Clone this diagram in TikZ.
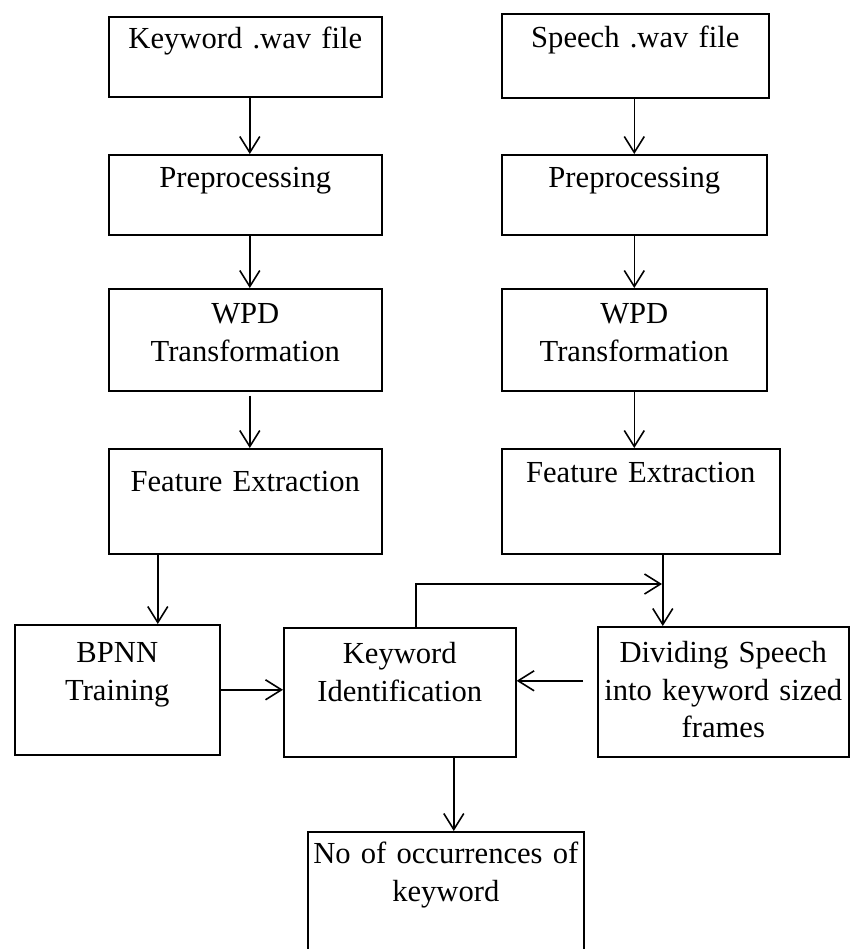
\documentclass[tikz,border=0pt]{standalone}
\usepackage{fontspec}
\setmainfont{Liberation Serif}
\usetikzlibrary{arrows.meta}

\begin{document}
\begin{tikzpicture}[x=0.5pt, y=-0.5pt,
line width=0.8pt,
>={Straight Barb[length=8pt,width=10pt]},
stage/.style={rectangle, draw, inner sep=0pt, anchor=north west,
  align=center, font=\fontsize{15.3pt}{18.7pt}\selectfont}
]
    \clip (0,0) rectangle (850,949);
    % keyword column
    \node[stage, text width=136.5pt, text height=16pt, text depth=24pt] (kwfile) at (108,16) {Keyword .wav file};
    \node[stage, text width=136.5pt, text height=16.5pt, text depth=23.5pt] (kwpre) at (108,154) {Preprocessing};
    \node[stage, text width=136.5pt, text height=17.5pt, text depth=33.5pt] (kwwpd) at (108,288) {WPD\\Transformation};
    \node[stage, text width=136.5pt, text height=21.5pt, text depth=31pt] (kwfeat) at (108,448) {Feature Extraction};
    % speech column
    \node[stage, text width=133.5pt, text height=17pt, text depth=25pt] (spfile) at (501,13) {Speech .wav file};
    \node[stage, text width=132.5pt, text height=16.5pt, text depth=23.5pt] (sppre) at (501,154) {Preprocessing};
    \node[stage, text width=132.5pt, text height=17.5pt, text depth=33.5pt] (spwpd) at (501,288) {WPD\\Transformation};
    \node[stage, text width=139pt, text height=17pt, text depth=35.5pt] (spfeat) at (501,448) {Feature Extraction};
    % bottom part
    \node[stage, text width=102.5pt, text height=19pt, text depth=46pt] (bpnn) at (14,624) {BPNN\\Training};
    \node[stage, text width=116pt, text height=18pt, text depth=46.5pt] (kid) at (283,627) {Keyword\\Identification};
    \node[stage, text width=125.5pt, text height=18pt, text depth=47pt] (div) at (597,626) {Dividing Speech\\into keyword sized\\frames};
    \node[stage, text width=138pt, text height=16pt, text depth=62pt] (nooc) at (307,831) {No of occurrences of\\keyword};
    \coordinate (join) at (662,584);

    \draw[->] ([xshift=2.25pt]kwfile.south) -- ([xshift=2.25pt]kwpre.north);
    \draw[->] ([xshift=2.25pt]kwpre.south) -- ([xshift=2.25pt]kwwpd.north);
    \draw[->] ([xshift=2.25pt,yshift=-2pt]kwwpd.south) -- ([xshift=2.25pt]kwfeat.north);
    \draw[->] (sppre.north |- spfile.south) -- (sppre.north);
    \draw[->] (sppre.south) -- (spwpd.north);
    \draw[->] (spwpd.south) -- (spwpd.south |- spfeat.north);
    \draw[->] ([xshift=20.25pt]bpnn.north |- kwfeat.south) -- ([xshift=20.25pt]bpnn.north);
    \draw[->] (bpnn.east) -- (bpnn.east -| kid.west);
    \draw[->] ([xshift=-30.25pt]div.north |- spfeat.south) -- ([xshift=-30.25pt]div.north);
    \draw[->] ([xshift=8pt]kid.north) |- (join);
    \draw[->] ([xshift=-7pt,yshift=5.5pt]div.west) -- ([yshift=5.5pt]div.west -| kid.east);
    \draw[->] ([xshift=27pt]kid.south) -- ([xshift=27pt]kid.south |- nooc.north);
\end{tikzpicture}
\end{document}
